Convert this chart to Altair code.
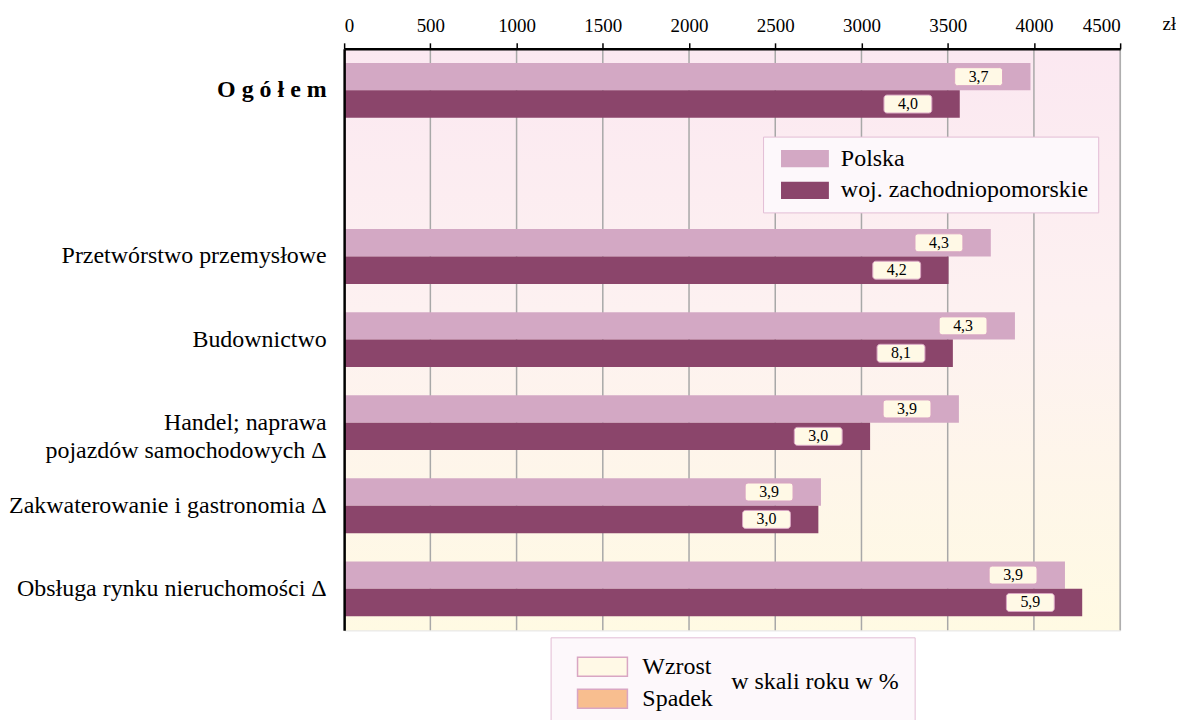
import altair as alt
import pandas as pd

# ---- data ----
categories = ["O g ó ł e m", "", "Przetwórstwo przemysłowe", "Budownictwo",
              "Handel; naprawa|pojazdów samochodowych Δ",
              "Zakwaterowanie i gastronomia Δ", "Obsługa rynku nieruchomości Δ"]
data_categories = ["O g ó ł e m", "Przetwórstwo przemysłowe", "Budownictwo",
                   "Handel; naprawa|pojazdów samochodowych Δ",
                   "Zakwaterowanie i gastronomia Δ", "Obsługa rynku nieruchomości Δ"]
series = ["Polska", "woj. zachodniopomorskie"]
polska = [3980, 3750, 3890, 3565, 2765, 4180]
woj = [3570, 3505, 3530, 3050, 2750, 4280]
polska_chg = ["3,7", "4,3", "4,3", "3,9", "3,9", "3,9"]
woj_chg = ["4,0", "4,2", "8,1", "3,0", "3,0", "5,9"]
change_kinds = ["Wzrost", "Spadek"]
x_ticks = [0, 500, 1000, 1500, 2000, 2500, 3000, 3500, 4000, 4500]

rows = []
for c, p, w, pc, wc in zip(data_categories, polska, woj, polska_chg, woj_chg):
    rows.append({"kat": c, "seria": series[0], "val": p, "zm": pc, "typ": "Wzrost"})
    rows.append({"kat": c, "seria": series[1], "val": w, "zm": wc, "typ": "Wzrost"})
df = pd.DataFrame(rows)
grid_df = pd.DataFrame({"val": x_ticks[1:]})

FONT = "Liberation Serif"
W, H = 778, 583

x_scale = alt.Scale(domain=[0, 4500], nice=False)

y_enc = alt.Y("kat:N", scale=alt.Scale(domain=categories, paddingInner=0.34, paddingOuter=0.17),
              sort=None,
              axis=alt.Axis(title=None, ticks=False, domainColor="black", domainWidth=2.5,
                            zindex=2,
                            labelFont=FONT, labelFontSize=24, labelColor="black", labelPadding=18,
                            labelExpr="split(datum.label, '|')", labelLineHeight=28,
                            labelFontWeight=alt.expr("datum.value == 'O g ó ł e m' ? 'bold' : 'normal'"),
                            labelLimit=400))
yoff = alt.YOffset("seria:N", sort=series, scale=alt.Scale(domain=series, paddingInner=0, paddingOuter=0))
x_enc = alt.X("val:Q", scale=x_scale,
              axis=alt.Axis(orient="top", values=x_ticks, format="d", title="zł",
                            titleFont=FONT, titleFontSize=19, titleFontWeight="normal",
                            titleAngle=0, titleX=W + 42, titleY=-25, titleBaseline="middle",
                            titleAnchor="start", zindex=2,
                            labelFont=FONT, labelFontSize=19, labelColor="black", labelPadding=7,
                            domainColor="black", domainWidth=2.5, tickColor="black",
                            tickSize=6, tickWidth=1.5, grid=False))

# legend swatches (unit = half of sqrt(symbolSize)), shifted right so they sit inside the frame
sym1 = "M-0.333,-0.72H3.667V0.72H-0.333Z"
sym2 = "M-0.2,-0.76H3.8V0.76H-0.2Z"

grad = alt.LinearGradient(gradient="linear", x1=0, y1=0, x2=0, y2=1,
                          stops=[alt.GradientStop(color="#fbe8f1", offset=0),
                                 alt.GradientStop(color="#fdf1f1", offset=0.45),
                                 alt.GradientStop(color="#fffae3", offset=1)])

background = alt.Chart(pd.DataFrame({"a": [0]})).mark_rect(fill=grad).encode(
    x=alt.value(0), x2=alt.value(W), y=alt.value(0), y2=alt.value(H))

gridlines = alt.Chart(grid_df).mark_rule(color="#a8a8a8", strokeWidth=1.5).encode(
    x=alt.X("val:Q", scale=x_scale), y=alt.value(0), y2=alt.value(H))

bars = alt.Chart(df).mark_bar().encode(
    x=x_enc, y=y_enc, yOffset=yoff,
    color=alt.Color("seria:N", scale=alt.Scale(domain=series, range=["#d3a8c4", "#8b456b"]),
                    legend=alt.Legend(title=None, orient="none", legendX=420, legendY=88,
                                      fillColor="#fdf8fb", strokeColor="#e3bdd5",
                                      padding=10, symbolType=sym1, symbolSize=576,
                                      symbolStrokeWidth=0, labelFont=FONT, labelFontSize=24,
                                      labelColor="black", labelOffset=44, rowPadding=8,
                                      labelLimit=400)),
)

boxes = alt.Chart(df).mark_rect(width=48, height=18, cornerRadius=3, stroke="#d9a6c3",
                                strokeWidth=1, xOffset=-52).encode(
    x="val:Q", y=alt.Y("kat:N", sort=None), yOffset=yoff,
    fill=alt.Fill("typ:N", scale=alt.Scale(domain=change_kinds, range=["#fff9e6", "#f8be8f"]),
                  legend=alt.Legend(title="w skali roku w %", titleOrient="right",
                                    titleFont=FONT, titleFontSize=24, titleFontWeight="normal",
                                    titleColor="black", titlePadding=18, titleAnchor="middle",
                                    titleBaseline="middle", titleLimit=400,
                                    orient="none", legendX=207, legendY=590,
                                    fillColor="#fdf8fb", strokeColor="#e3bdd5",
                                    padding=16, symbolType=sym2, symbolSize=625,
                                    symbolStrokeColor="#d9a6c3", symbolStrokeWidth=1.5,
                                    labelFont=FONT, labelFontSize=24, labelColor="black",
                                    labelOffset=49, rowPadding=6)),
)

texts = alt.Chart(df).mark_text(font=FONT, fontSize=16, color="black", dx=-52,
                                baseline="middle", align="center").encode(
    x="val:Q", y=alt.Y("kat:N", sort=None), yOffset=yoff, text="zm:N",
)

chart = alt.layer(background, gridlines, bars, boxes, texts).properties(
    width=W, height=H, padding={"left": 0, "top": 6, "right": 0, "bottom": 0}
).configure_view(stroke="#999999", strokeWidth=2).configure_legend(strokeWidth=2).configure(background="white")

chart.save("out.html", embed_options={"renderer": "svg", "actions": False})
